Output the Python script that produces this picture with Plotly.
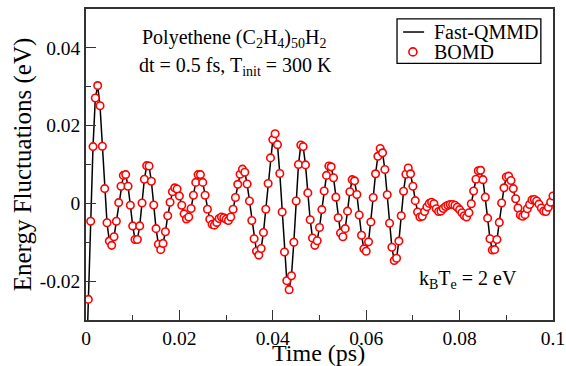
import plotly.graph_objects as go

# BOMD samples every 0.5 fs (t = 0.0005 ... 0.1 ps)
bomd_time = [round(0.0005 * m, 4) for m in range(1, 201)]
bomd_energy = [
    -0.0247, -0.0046, 0.0146, 0.0271, 0.0303, 0.0251, 0.0147, 0.0038, -0.0050, -0.0097,
    -0.0108, -0.0086, -0.0046, 0.0002, 0.0044, 0.0072, 0.0074, 0.0044, -0.0005, -0.0058,
    -0.0093, -0.0093, -0.0058, 0.0001, 0.0062, 0.0097, 0.0096, 0.0057, -0.0004, -0.0065,
    -0.0105, -0.0119, -0.0103, -0.0073, -0.0032, 0.0003, 0.0030, 0.0040, 0.0037, 0.0019,
    -0.0005, -0.0027, -0.0040, -0.0035, -0.0013, 0.0021, 0.0054, 0.0074, 0.0074, 0.0054,
    0.0021, -0.0015, -0.0041, -0.0054, -0.0056, -0.0049, -0.0039, -0.0035, -0.0037, -0.0041,
    -0.0044, -0.0035, -0.0015, 0.0015, 0.0049, 0.0075, 0.0088, 0.0080, 0.0050, 0.0006,
    -0.0044, -0.0091, -0.0123, -0.0133, -0.0116, -0.0075, -0.0015, 0.0051, 0.0117, 0.0164,
    0.0179, 0.0151, 0.0077, -0.0022, -0.0125, -0.0199, -0.0222, -0.0186, -0.0100, 0.0006,
    0.0100, 0.0150, 0.0146, 0.0099, 0.0027, -0.0042, -0.0089, -0.0108, -0.0096, -0.0062,
    -0.0016, 0.0032, 0.0072, 0.0096, 0.0094, 0.0066, 0.0016, -0.0037, -0.0076, -0.0086,
    -0.0065, -0.0020, 0.0030, 0.0061, 0.0058, 0.0023, -0.0030, -0.0082, -0.0117, -0.0123,
    -0.0099, -0.0048, 0.0015, 0.0076, 0.0121, 0.0141, 0.0130, 0.0087, 0.0022, -0.0051,
    -0.0113, -0.0147, -0.0141, -0.0097, -0.0032, 0.0031, 0.0075, 0.0091, 0.0076, 0.0044,
    0.0007, -0.0022, -0.0035, -0.0033, -0.0021, -0.0009, 0.0000, 0.0003, -0.0001, -0.0014,
    -0.0021, -0.0020, -0.0013, -0.0008, -0.0005, -0.0003, -0.0003, -0.0005, -0.0010, -0.0016,
    -0.0024, -0.0032, -0.0035, -0.0024, -0.0001, 0.0032, 0.0062, 0.0084, 0.0085, 0.0061,
    0.0016, -0.0038, -0.0091, -0.0120, -0.0119, -0.0093, -0.0049, 0.0001, 0.0040, 0.0068,
    0.0070, 0.0059, 0.0038, 0.0012, -0.0012, -0.0030, -0.0033, -0.0029, -0.0014, -0.0003,
    0.0009, 0.0010, 0.0006, -0.0002, -0.0012, -0.0020, -0.0021, -0.0010, 0.0003, 0.0019,
]

# Fast-QMMD trajectory (starts at t = 0, below the visible range)
qmmd_time = [0.0] + bomd_time
qmmd_energy = [-0.045] + bomd_energy

series_names = ["Fast-QMMD", "BOMD"]
x_tickvals = [0, 0.02, 0.04, 0.06, 0.08, 0.1]
x_ticktext = ["0", "0.02", "0.04", "0.06", "0.08", "0.1"]
y_tickvals = [-0.02, 0, 0.02, 0.04]
y_ticktext = ["-0.02", "0", "0.02", "0.04"]

FONT = "Liberation Serif"
RED = "#ff0000"

fig = go.Figure()
fig.add_trace(go.Scatter(
    x=qmmd_time, y=qmmd_energy, mode="lines", name=series_names[0],
    line=dict(color="black", width=1.5), showlegend=False,
))
fig.add_trace(go.Scatter(
    x=bomd_time, y=bomd_energy, mode="markers", name=series_names[1],
    marker=dict(symbol="circle", size=7.5, color="white",
                line=dict(color=RED, width=1.6)),
    showlegend=False,
))

axis_common = dict(
    showline=True, mirror=True, linecolor="#333333", linewidth=1.5,
    ticks="inside", ticklen=10, tickwidth=1.2, tickcolor="#333333",
    showgrid=False, zeroline=False, automargin=False,
    tickfont=dict(family=FONT, size=19.5, color="black"),
)

fig.update_xaxes(
    range=[0, 0.1], tickvals=x_tickvals, ticktext=x_ticktext,
    minor=dict(ticks="inside", ticklen=5, dtick=0.01, tickcolor="#333333", tickwidth=1.2),
    **axis_common,
)
fig.update_yaxes(
    range=[-0.03, 0.05], tickvals=y_tickvals, ticktext=y_ticktext,
    minor=dict(ticks="inside", ticklen=5, dtick=0.01, tickcolor="#333333", tickwidth=1.2),
    title=dict(text="Energy Fluctuations (eV)", font=dict(family=FONT, size=25, color="black"), standoff=1),
    **axis_common,
)

# x-axis title placed just below the tick labels
fig.add_annotation(
    text="Time (ps)", xref="paper", yref="paper", x=0.497, y=-0.106,
    xanchor="center", yanchor="middle", showarrow=False, borderpad=0,
    font=dict(family=FONT, size=24, color="black"),
)

fig.add_annotation(
    text="Polyethene (C<sub>2</sub>H<sub>4</sub>)<sub>50</sub>H<sub>2</sub>",
    xref="paper", yref="paper", x=0.317, y=0.905, xanchor="center", yanchor="middle",
    showarrow=False, font=dict(family=FONT, size=20, color="black"),
)
fig.add_annotation(
    text="dt = 0.5 fs, T<sub>init</sub> = 300 K",
    xref="paper", yref="paper", x=0.321, y=0.815, xanchor="center", yanchor="middle",
    showarrow=False, font=dict(family=FONT, size=20, color="black"),
)
fig.add_annotation(
    text="k<sub>B</sub>T<sub>e</sub> = 2 eV",
    xref="paper", yref="paper", x=0.819, y=0.13, xanchor="center", yanchor="middle",
    showarrow=False, font=dict(family=FONT, size=20, color="black"),
)

# legend box (drawn as a compact key like the original)
fig.add_shape(type="rect", xref="paper", yref="paper",
              x0=0.666, x1=0.974, y0=0.825, y1=0.968,
              line=dict(color="black", width=1.3), fillcolor="white", layer="above")
fig.add_shape(type="line", xref="paper", yref="paper",
              x0=0.679, x1=0.724, y0=0.926, y1=0.926,
              line=dict(color="black", width=1.5), layer="above")
fig.add_shape(type="circle", xref="paper", yref="paper",
              xsizemode="pixel", ysizemode="pixel", xanchor=0.700, yanchor=0.862,
              x0=-4, x1=4, y0=-4, y1=4,
              line=dict(color=RED, width=1.6), fillcolor="white", layer="above")
fig.add_annotation(text=series_names[0], xref="paper", yref="paper", x=0.741, y=0.926,
                   xanchor="left", yanchor="middle", showarrow=False,
                   font=dict(family=FONT, size=20, color="black"))
fig.add_annotation(text=series_names[1], xref="paper", yref="paper", x=0.741, y=0.862,
                   xanchor="left", yanchor="middle", showarrow=False,
                   font=dict(family=FONT, size=20, color="black"))

fig.update_layout(
    width=566, height=366,
    margin=dict(l=86, r=13, t=9, b=46),
    paper_bgcolor="white", plot_bgcolor="white",
    font=dict(family=FONT, color="black"),
    showlegend=False,
)

fig.write_html("out.html", config={"displayModeBar": False},
               post_script="document.body.style.margin='0px';")
